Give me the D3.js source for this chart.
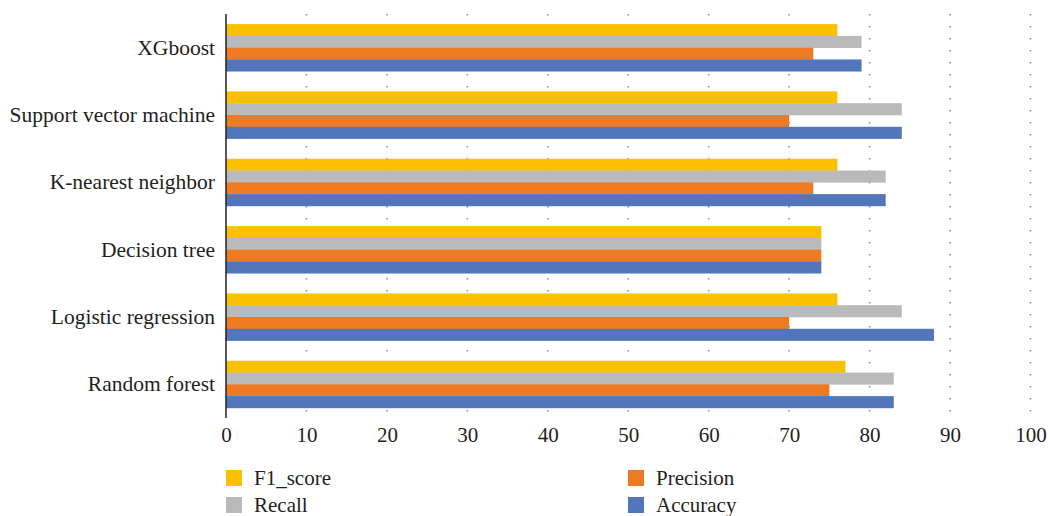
<!DOCTYPE html>
<html>
<head>
<meta charset="utf-8">
<script src="https://cdn.jsdelivr.net/npm/d3@7"></script>
<style>
  body { margin: 0; background: #fff; }
  text { font-family: "Liberation Serif", "DejaVu Serif", serif; fill: #231f20; }
</style>
</head>
<body>
<div id="chart"></div>
<script>
// data
const models = ["XGboost", "Support vector machine", "K-nearest neighbor", "Decision tree", "Logistic regression", "Random forest"];
const seriesNames = ["F1_score", "Recall", "Precision", "Accuracy"];
const f1Score   = [76, 76, 76, 74, 76, 77];
const recall    = [79, 84, 82, 74, 84, 83];
const precision = [73, 70, 73, 74, 70, 75];
const accuracy  = [79, 84, 82, 74, 88, 83];
const xTicks = [0, 10, 20, 30, 40, 50, 60, 70, 80, 90, 100];

const colors = {F1_score: "#fbc100", Recall: "#bababa", Precision: "#ee7b22", Accuracy: "#5275bc"};
const values = {F1_score: f1Score, Recall: recall, Precision: precision, Accuracy: accuracy};

const W = 1048, H = 516;
const margin = {left: 226, right: 1030.5, top: 14, bottom: 418};

const svg = d3.select("#chart").append("svg")
  .attr("width", W).attr("height", H);

const x = d3.scaleLinear().domain([0, 100]).range([margin.left, margin.right]);
const y = d3.scaleBand().domain(models).range([margin.top, margin.bottom])
  .paddingInner(0.3).paddingOuter(0.15);
const ySub = d3.scaleBand().domain(seriesNames).range([0, y.bandwidth()]);

// dotted gridlines
svg.append("g").selectAll("line")
  .data(xTicks.slice(1))
  .join("line")
  .attr("x1", d => x(d)).attr("x2", d => x(d))
  .attr("y1", margin.top).attr("y2", margin.bottom - 6)
  .attr("stroke", "#8a8a8a")
  .attr("stroke-width", 1.5)
  .attr("stroke-dasharray", "1.5,10.5");

// bars
const rows = models.flatMap((m, i) => seriesNames.map(s => ({model: m, series: s, value: values[s][i]})));
svg.append("g").selectAll("rect")
  .data(rows)
  .join("rect")
  .attr("x", x(0))
  .attr("y", d => y(d.model) + ySub(d.series))
  .attr("width", d => x(d.value) - x(0))
  .attr("height", ySub.bandwidth() + 0.3)
  .attr("fill", d => colors[d.series]);

// y axis
const yAxis = svg.append("g")
  .attr("transform", `translate(${margin.left},0)`)
  .call(d3.axisLeft(y).tickSize(0).tickPadding(11));
yAxis.select(".domain").attr("stroke", "#231f20").attr("stroke-width", 1.5)
  .attr("d", `M0,${margin.top}V${margin.bottom}`);
yAxis.selectAll("text").style("font-size", "21.5px")
  .style("font-family", "'Liberation Serif', serif").attr("fill", "#231f20");

// x axis (labels only)
const xAxis = svg.append("g")
  .attr("transform", `translate(0,${margin.bottom})`)
  .call(d3.axisBottom(x).tickValues(xTicks).tickSize(0).tickPadding(9));
xAxis.select(".domain").remove();
xAxis.selectAll("text").style("font-size", "21px")
  .style("font-family", "'Liberation Serif', serif").attr("fill", "#231f20");

// legend
const legendPos = [
  {name: "F1_score", x: 226, y: 470},
  {name: "Recall", x: 226, y: 497},
  {name: "Precision", x: 628, y: 470},
  {name: "Accuracy", x: 628, y: 497}
];
const lg = svg.append("g").selectAll("g")
  .data(legendPos)
  .join("g")
  .attr("transform", d => `translate(${d.x},${d.y})`);
lg.append("rect").attr("width", 16).attr("height", 16)
  .attr("fill", d => colors[d.name]);
lg.append("text").attr("x", 28).attr("y", 8).attr("dy", "0.35em")
  .style("font-size", "21px").text(d => d.name);
</script>
</body>
</html>
